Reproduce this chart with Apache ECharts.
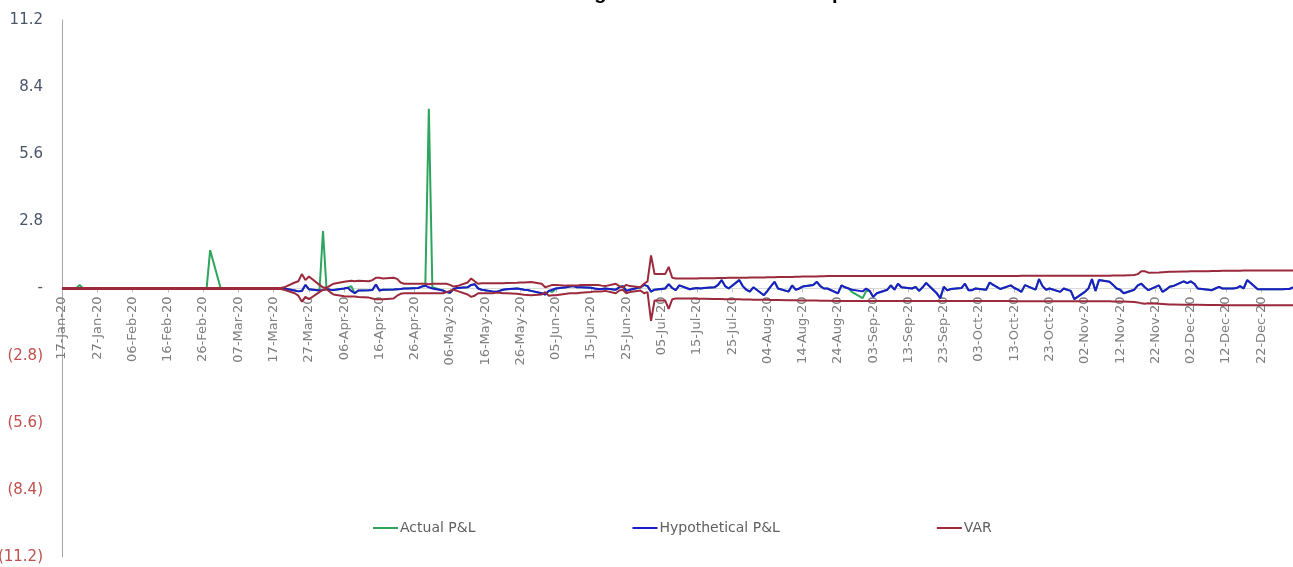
<!DOCTYPE html>
<html><head><meta charset="utf-8">
<script src="https://cdn.jsdelivr.net/npm/echarts@6/dist/echarts.min.js"></script>
<style>html,body{margin:0;padding:0;background:#fff}#c{width:1293px;height:567px}</style>
</head><body><div id="c"></div>
<script>
const titleText = 'Backtesting for VaR over Historical period 2020';
const seriesNames = ['Actual P&L', 'Hypothetical P&L', 'VAR'];
const startDate = [2020, 0, 17];
const endDate = [2020, 11, 31];
const monthNames = ['Jan','Feb','Mar','Apr','May','Jun','Jul','Aug','Sep','Oct','Nov','Dec'];

// one value per trading day (weekdays), grouped by month
const actualPL = [
  0,0,0,0.15,0,0,0,0,0,0,0,
  0,0,0,0,0,0,0,0,0,0,0,0,0,0,0,0,0,0,0,1.6,
  0,0,0,0,0,0,0,0,0,0,0,0,0,0,0,-0.08,-0.12,-0.1,0.15,-0.03,-0.08,2.4,
  -0.02,-0.05,-0.06,0.0,0.03,0.1,-0.2,-0.08,-0.07,-0.06,0.17,-0.08,-0.05,-0.04,-0.03,-0.02,0.0,0.0,0.02,0.08,0.1,7.5,
  0.05,-0.08,-0.15,-0.18,-0.02,0.02,0.05,0.15,0.18,0.0,-0.05,-0.12,-0.14,-0.1,-0.05,-0.03,0.0,-0.02,-0.05,-0.06,-0.1,
  -0.2,-0.25,-0.1,-0.15,0.0,0.05,0.08,0.1,0.05,0.05,0.03,0.0,-0.02,-0.02,0.0,-0.05,0.05,0.1,-0.1,-0.05,0.05,0.15,
  0.1,-0.13,-0.05,0.0,0.18,0.02,-0.07,0.13,-0.03,0.0,0.02,0.0,0.02,0.05,0.15,0.35,0.1,0.0,0.35,0.1,-0.05,-0.13,0.05,
  -0.28,-0.1,0.1,0.28,0.0,-0.13,0.13,-0.05,0.0,0.08,0.15,0.28,0.1,0.0,0.0,-0.2,0.13,0.05,0.0,-0.15,-0.4,
  -0.1,-0.1,-0.35,-0.2,-0.05,0.13,-0.05,0.2,0.05,0.0,0.07,-0.1,0.05,0.23,-0.2,-0.4,0.07,-0.08,-0.02,0.02,0.2,-0.07,
  -0.07,0.0,-0.05,0.25,0.15,0.07,-0.02,0.13,0.02,-0.05,-0.14,0.14,-0.05,0.39,0.1,-0.05,0.0,-0.14,0.0,-0.05,-0.1,-0.44,
  -0.14,0.0,0.39,-0.1,0.35,0.28,0.15,0.0,-0.05,-0.2,-0.05,0.13,0.2,0.05,-0.07,0.13,-0.14,-0.05,0.07,0.1,0.3,
  0.22,0.3,0.2,0.0,-0.05,-0.07,0.0,0.07,0.0,0.0,0.02,0.1,0.0,0.35,-0.03,-0.03,-0.03,-0.03,-0.03,-0.03,-0.02,-0.02,0.05
];
const hypotheticalPL = [
  0,0,0,0,0,0,0,0,0,0,0,
  0,0,0,0,0,0,0,0,0,0,0,0,0,0,0,0,0,0,0,0,
  0,0,0,0,0,0,0,0,0,0,0,0,0,0,0,-0.08,-0.12,-0.1,0.15,-0.03,-0.08,-0.06,
  -0.02,-0.05,-0.06,0.0,0.03,-0.1,-0.2,-0.08,-0.07,-0.06,0.17,-0.08,-0.05,-0.04,-0.03,-0.02,0.0,0.0,0.02,0.08,0.12,0.05,
  0.0,-0.08,-0.15,-0.18,-0.02,0.02,0.05,0.15,0.18,0.0,-0.05,-0.12,-0.14,-0.1,-0.05,-0.03,0.0,-0.02,-0.05,-0.06,-0.1,
  -0.2,-0.25,-0.1,-0.05,0.0,0.05,0.08,0.1,0.05,0.05,0.03,0.0,-0.02,-0.02,0.0,-0.05,0.05,0.1,-0.1,-0.05,0.05,0.15,
  0.1,-0.13,-0.05,0.0,0.18,0.02,-0.07,0.13,-0.03,0.0,0.02,0.0,0.02,0.05,0.15,0.35,0.1,0.0,0.35,0.1,-0.05,-0.13,0.05,
  -0.28,-0.1,0.1,0.28,0.0,-0.13,0.13,-0.05,0.0,0.08,0.15,0.28,0.1,0.0,0.0,-0.2,0.13,0.05,0.0,-0.05,-0.12,
  0.0,-0.1,-0.35,-0.2,-0.05,0.13,-0.05,0.2,0.05,0.0,0.07,-0.1,0.05,0.23,-0.2,-0.4,0.07,-0.08,-0.02,0.02,0.2,-0.07,
  -0.07,0.0,-0.05,0.25,0.15,0.07,-0.02,0.13,0.02,-0.05,-0.14,0.14,-0.05,0.39,0.1,-0.05,0.0,-0.14,0.0,-0.05,-0.1,-0.44,
  -0.14,0.0,0.39,-0.1,0.35,0.28,0.15,0.0,-0.05,-0.2,-0.05,0.13,0.2,0.05,-0.07,0.13,-0.14,-0.05,0.07,0.1,0.3,
  0.22,0.3,0.2,0.0,-0.05,-0.07,0.0,0.07,0.0,0.0,0.02,0.1,0.0,0.35,-0.03,-0.03,-0.03,-0.03,-0.03,-0.03,-0.02,-0.02,0.05
];
const varUpper = [
  0.02,0.02,0.02,0.02,0.02,0.02,0.02,0.02,0.02,0.02,0.02,
  0.02,0.02,0.02,0.02,0.02,0.02,0.02,0.02,0.02,0.02,0.02,0.02,0.02,0.02,0.02,0.02,0.02,0.02,0.02,0.02,
  0.02,0.02,0.02,0.02,0.02,0.02,0.02,0.02,0.02,0.02,0.02,0.02,0.02,0.02,0.05,0.25,0.3,0.6,0.35,0.5,0.15,0.05,
  0.03,0.12,0.2,0.28,0.3,0.32,0.3,0.32,0.3,0.35,0.45,0.45,0.42,0.45,0.4,0.25,0.2,0.2,0.2,0.2,0.2,0.18,
  0.2,0.2,0.2,0.15,0.08,0.1,0.25,0.42,0.3,0.2,0.22,0.22,0.22,0.22,0.22,0.23,0.24,0.25,0.25,0.26,0.27,
  0.2,0.05,0.1,0.15,0.15,0.12,0.12,0.12,0.12,0.15,0.15,0.15,0.15,0.12,0.1,0.2,0.1,0.05,0.15,0.1,0.05,0.2,
  0.3,1.38,0.6,0.6,0.9,0.45,0.42,0.42,0.42,0.42,0.42,0.43,0.43,0.43,0.44,0.44,0.44,0.45,0.45,0.45,0.45,0.46,0.46,
  0.46,0.47,0.47,0.47,0.48,0.48,0.48,0.49,0.49,0.5,0.5,0.5,0.51,0.51,0.52,0.52,0.52,0.52,0.52,0.52,0.52,
  0.52,0.52,0.52,0.52,0.52,0.52,0.52,0.52,0.52,0.52,0.52,0.52,0.52,0.52,0.52,0.52,0.52,0.52,0.52,0.52,0.52,0.52,
  0.52,0.52,0.52,0.52,0.52,0.52,0.52,0.52,0.52,0.52,0.53,0.53,0.53,0.53,0.53,0.53,0.53,0.53,0.53,0.53,0.53,0.53,
  0.53,0.53,0.53,0.53,0.53,0.53,0.54,0.54,0.54,0.54,0.56,0.6,0.72,0.72,0.66,0.67,0.68,0.69,0.7,0.7,0.71,
  0.71,0.72,0.72,0.72,0.72,0.73,0.73,0.73,0.74,0.74,0.74,0.74,0.75,0.75,0.75,0.75,0.75,0.75,0.75,0.75,0.75,0.75,0.75
];
const varLower = [
  -0.02,-0.02,-0.02,-0.02,-0.02,-0.02,-0.02,-0.02,-0.02,-0.02,-0.02,
  -0.02,-0.02,-0.02,-0.02,-0.02,-0.02,-0.02,-0.02,-0.02,-0.02,-0.02,-0.02,-0.02,-0.02,-0.02,-0.02,-0.02,-0.02,-0.02,-0.02,
  -0.02,-0.02,-0.02,-0.02,-0.02,-0.02,-0.02,-0.02,-0.02,-0.02,-0.02,-0.02,-0.02,-0.02,-0.05,-0.2,-0.3,-0.55,-0.35,-0.45,-0.15,-0.05,
  -0.03,-0.15,-0.25,-0.32,-0.33,-0.33,-0.33,-0.35,-0.38,-0.42,-0.45,-0.45,-0.45,-0.42,-0.3,-0.22,-0.2,-0.2,-0.2,-0.2,-0.2,-0.2,
  -0.2,-0.2,-0.15,-0.1,-0.05,-0.1,-0.25,-0.35,-0.3,-0.2,-0.2,-0.2,-0.18,-0.18,-0.2,-0.2,-0.22,-0.24,-0.26,-0.27,-0.28,
  -0.25,-0.15,-0.3,-0.28,-0.28,-0.22,-0.2,-0.2,-0.2,-0.18,-0.15,-0.12,-0.12,-0.12,-0.1,-0.2,-0.08,-0.05,-0.2,-0.15,-0.08,-0.2,
  -0.15,-1.35,-0.5,-0.5,-0.85,-0.45,-0.42,-0.42,-0.42,-0.42,-0.43,-0.43,-0.43,-0.44,-0.44,-0.44,-0.45,-0.45,-0.45,-0.46,-0.46,-0.46,-0.47,
  -0.47,-0.47,-0.48,-0.48,-0.48,-0.49,-0.49,-0.49,-0.5,-0.5,-0.5,-0.5,-0.51,-0.51,-0.51,-0.52,-0.52,-0.52,-0.52,-0.52,-0.52,
  -0.52,-0.52,-0.52,-0.52,-0.52,-0.52,-0.52,-0.52,-0.52,-0.52,-0.52,-0.52,-0.52,-0.52,-0.52,-0.52,-0.52,-0.52,-0.52,-0.52,-0.52,-0.52,
  -0.52,-0.52,-0.52,-0.52,-0.52,-0.52,-0.52,-0.52,-0.53,-0.53,-0.53,-0.53,-0.53,-0.53,-0.53,-0.53,-0.53,-0.53,-0.53,-0.53,-0.53,-0.53,
  -0.53,-0.53,-0.53,-0.53,-0.53,-0.53,-0.54,-0.54,-0.54,-0.54,-0.56,-0.58,-0.62,-0.64,-0.62,-0.64,-0.65,-0.66,-0.67,-0.67,-0.68,
  -0.68,-0.68,-0.68,-0.68,-0.69,-0.69,-0.69,-0.69,-0.7,-0.7,-0.7,-0.7,-0.7,-0.7,-0.7,-0.7,-0.7,-0.7,-0.7,-0.7,-0.7,-0.7,-0.7
];

// trading days (weekdays) as day offsets from the start date
const DAY = 86400000;
const t0 = Date.UTC(startDate[0], startDate[1], startDate[2]);
const t1 = Date.UTC(endDate[0], endDate[1], endDate[2]);
const spanDays = Math.round((t1 - t0) / DAY);
const tradingDays = [];
for (let d = 0; d <= spanDays; d++) {
  const wd = new Date(t0 + d * DAY).getUTCDay();
  if (wd !== 0 && wd !== 6) tradingDays.push(d);
}
const pair = arr => tradingDays.map((d, i) => [d, arr[i]]);

function fmtDate(v) {
  const dt = new Date(t0 + Math.round(v) * DAY);
  const dd = String(dt.getUTCDate()).padStart(2, '0');
  return dd + '-' + monthNames[dt.getUTCMonth()] + '-' + String(dt.getUTCFullYear()).slice(2);
}
function fmtY(v) {
  if (Math.abs(v) < 1e-9) return '-';
  const s = Math.abs(v).toFixed(1);
  return v < 0 ? '(' + s + ')' : s;
}

const GRID_TOP = 20, GRID_BOTTOM = 10, H = 567;
const Y_MIN = -11.2, Y_MAX = 11.2;
// place the date axis on the zero line of the value axis
const plotH = H - GRID_TOP - GRID_BOTTOM;
const zeroOffset = -plotH * (0 - Y_MIN) / (Y_MAX - Y_MIN);

const FONT = 'DejaVu Sans';
const chart = echarts.init(document.getElementById('c'), null, {renderer: 'canvas'});
const lineBase = {type: 'line', showSymbol: false, symbol: 'none', smooth: false, animation: false};
chart.setOption({
  backgroundColor: '#ffffff',
  animation: false,
  title: {
    text: titleText, left: 488, top: -22,
    textStyle: {fontFamily: 'Liberation Sans', fontWeight: 'bold', fontSize: 20, color: '#000'}
  },
  legend: {
    data: seriesNames, left: 368, top: 516, itemGap: 157,
    icon: 'rect', itemWidth: 25, itemHeight: 2,
    textStyle: {fontFamily: FONT, fontSize: 14, color: '#606060', padding: [0, 0, 0, -3]}
  },
  grid: {left: 62, right: 0, top: GRID_TOP, bottom: GRID_BOTTOM, containLabel: false, outerBoundsMode: 'none'},
  xAxis: {
    type: 'value', min: 0, max: spanDays, interval: 10,
    position: 'bottom', offset: zeroOffset, z: 0,
    axisLine: {onZero: false, lineStyle: {color: '#d9d9d9', width: 1}},
    axisTick: {show: true, length: 4, lineStyle: {color: '#bfbfbf'}},
    splitLine: {show: false},
    axisLabel: {rotate: 90, fontFamily: FONT, fontSize: 13, color: '#7f7f7f', margin: 8,
      showMaxLabel: false, formatter: fmtDate}
  },
  yAxis: {
    type: 'value', min: Y_MIN, max: Y_MAX, interval: 2.8,
    axisLine: {show: true, onZero: false, lineStyle: {color: '#a6a6a6', width: 1}},
    axisTick: {show: false},
    splitLine: {show: false},
    axisLabel: {fontFamily: FONT, fontSize: 15, margin: 19, formatter: fmtY,
      color: v => (v < -1e-9 ? '#c0504d' : '#4a5568')}
  },
  series: [
    Object.assign({}, lineBase, {name: seriesNames[0], data: pair(actualPL),
      itemStyle: {color: '#2ea55c'}, lineStyle: {color: '#2ea55c', width: 2}}),
    Object.assign({}, lineBase, {name: seriesNames[1], data: pair(hypotheticalPL),
      itemStyle: {color: '#1c1cc8'}, lineStyle: {color: '#1c1cc8', width: 2}}),
    Object.assign({}, lineBase, {name: seriesNames[2], data: pair(varUpper),
      itemStyle: {color: '#9c2a3d'}, lineStyle: {color: '#9c2a3d', width: 2}}),
    Object.assign({}, lineBase, {name: seriesNames[2], data: pair(varLower),
      itemStyle: {color: '#9c2a3d'}, lineStyle: {color: '#9c2a3d', width: 2}})
  ]
});
</script>
</body></html>
